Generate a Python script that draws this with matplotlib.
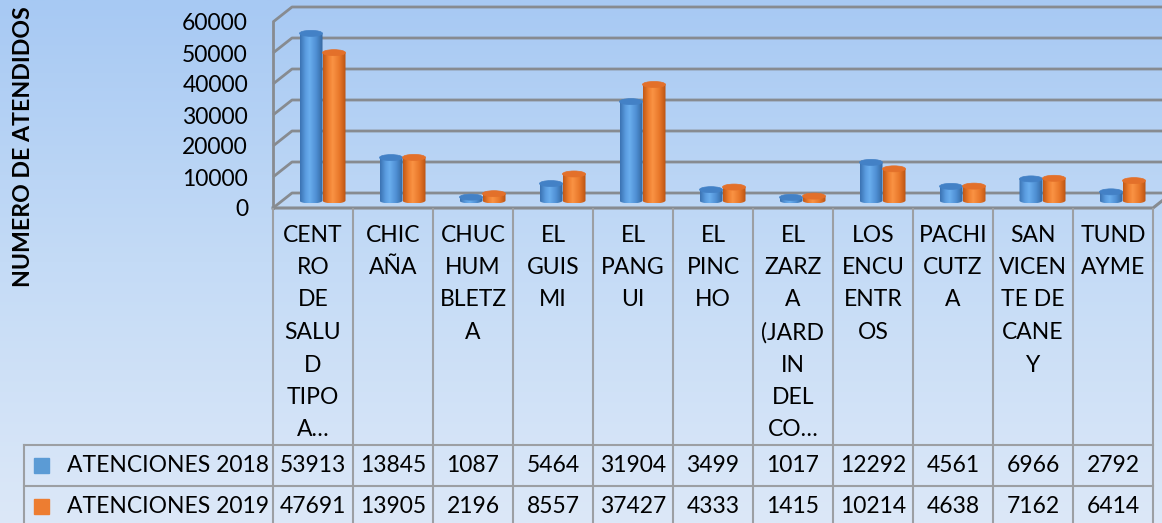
import numpy as np
import matplotlib.pyplot as plt
from matplotlib.path import Path
from matplotlib.patches import PathPatch, Ellipse, Rectangle
from matplotlib.colors import LinearSegmentedColormap

categories = [
    "CENT\nRO\nDE\nSALU\nD\nTIPO\nA…",
    "CHIC\nAÑA",
    "CHUC\nHUM\nBLETZ\nA",
    "EL\nGUIS\nMI",
    "EL\nPANG\nUI",
    "EL\nPINC\nHO",
    "EL\nZARZ\nA\n(JARD\nIN\nDEL\nCO…",
    "LOS\nENCU\nENTR\nOS",
    "PACHI\nCUTZ\nA",
    "SAN\nVICEN\nTE DE\nCANE\nY",
    "TUND\nAYME",
]
atenciones_2018 = [53913, 13845, 1087, 5464, 31904, 3499, 1017, 12292, 4561, 6966, 2792]
atenciones_2019 = [47691, 13905, 2196, 8557, 37427, 4333, 1415, 10214, 4638, 7162, 6414]
series_names = ["ATENCIONES 2018", "ATENCIONES 2019"]
y_ticks = [0, 10000, 20000, 30000, 40000, 50000, 60000]
y_title = "NUMERO DE ATENDIDOS"

W, H = 1162, 523
FS = 16.5
plt.rcParams["font.family"] = ["Lato", "DejaVu Sans"]

fig = plt.figure(figsize=(W / 100, H / 100), dpi=100)

# background gradient
bg = fig.add_axes([0, 0, 1, 1], zorder=-10)
bg_cmap = LinearSegmentedColormap.from_list("bg", ["#A7C9F3", "#C4DBF6", "#DCE8F8"])
bg.imshow(np.linspace(0, 1, 256).reshape(-1, 1), aspect="auto", cmap=bg_cmap,
          extent=[0, 1, 0, 1])
bg.axis("off")

# layout (pixels)
x0_px, col_w = 273, 80
floor_px = 208
px_per_unit = (208 - 22) / 60000
n = len(categories)

ax = fig.add_axes([x0_px / W, (H - floor_px) / H, n * col_w / W, floor_px / H])
ax.patch.set_alpha(0)
for sp in ax.spines.values():
    sp.set_visible(False)

DX = 19 / col_w          # depth offset, category units
DY = 15 / px_per_unit    # depth offset, value units
BW = 23 / col_w          # cylinder width
EH = 6 / px_per_unit     # ellipse height

grid_c = "#878B90"
for t in y_ticks:
    ax.plot([-0.5, -0.5 + DX, n - 0.5 + DX + 0.2], [t, t + DY, t + DY],
            color=grid_c, lw=2.0, clip_on=False, zorder=1, solid_capstyle="butt")
ax.plot([-0.5, -0.5], [0, y_ticks[-1]], color=grid_c, lw=2.0, clip_on=False, zorder=1)
ax.plot([-0.5, n - 0.5, n - 0.5 + DX], [0, 0, DY], color=grid_c, lw=2.2,
        clip_on=False, zorder=1)

blue_cmap = LinearSegmentedColormap.from_list(
    "b", [(0, "#3A72B2"), (0.25, "#5B9DE0"), (0.42, "#6AAEEE"), (0.72, "#4E8ED2"), (1, "#34669E")])
orange_cmap = LinearSegmentedColormap.from_list(
    "o", [(0, "#C25816"), (0.25, "#EF7F2F"), (0.42, "#FA9344"), (0.72, "#E8772A"), (1, "#B95312")])
tops = ["#4381C6", "#E3702A"]
cmaps = [blue_cmap, orange_cmap]
grad = np.linspace(0, 1, 128).reshape(1, -1)


def cylinder(xc, value, cmap, top_color):
    l, r = xc - BW / 2, xc + BW / 2
    base = DY / 2
    top = base + value
    th = np.linspace(np.pi, 2 * np.pi, 40)
    verts = [(l, top)] + list(zip(xc + BW / 2 * np.cos(th), base + EH / 2 * np.sin(th))) + [(r, top), (l, top)]
    codes = [Path.MOVETO] + [Path.LINETO] * (len(verts) - 2) + [Path.CLOSEPOLY]
    patch = PathPatch(Path(verts, codes), fc="none", ec="none", transform=ax.transData)
    ax.add_patch(patch)
    im = ax.imshow(grad, cmap=cmap, aspect="auto", extent=[l, r, base - EH / 2, top],
                   zorder=3, interpolation="bilinear")
    im.set_clip_path(patch)
    ax.add_patch(Ellipse((xc, top), BW, EH, fc=top_color, ec=top_color, lw=0.5, zorder=4))


for s, vals in enumerate([atenciones_2018, atenciones_2019]):
    for i, v in enumerate(vals):
        cylinder(i + DX / 2 + (s - 0.5) * BW, v, cmaps[s], tops[s])

ax.set_xlim(-0.5, n - 0.5)
ax.set_ylim(0, floor_px / px_per_unit)
ax.set_xticks([])
ax.set_yticks(y_ticks, [str(t) for t in y_ticks])
ax.tick_params(axis="y", length=0, pad=18, labelsize=FS)

fig.text(24 / W, 1 - 147 / H, y_title, rotation=90, fontsize=16.7, fontweight="bold",
         ha="center", va="center")

# data table
tab = fig.add_axes([0, 0, 1, 1], zorder=5)
tab.set_xlim(0, W)
tab.set_ylim(H, 0)
tab.axis("off")
line_c = "#9C9FA3"
head_top, head_bot, row_h, left_px = 209, 445, 41, 24
cols = [x0_px + col_w * k for k in range(n + 1)]
for cx in cols:
    tab.plot([cx, cx], [head_top, H], color=line_c, lw=1.5)
tab.plot([left_px, left_px], [head_bot, H], color=line_c, lw=1.5)
for y in [head_bot, head_bot + row_h]:
    tab.plot([left_px, cols[-1]], [y, y], color=line_c, lw=1.5)

for i, lab in enumerate(categories):
    for j, line in enumerate(lab.split("\n")):
        tab.text(cols[i] + col_w / 2, 235 + j * 32.5, line, ha="center", va="center", fontsize=FS)

key_colors = ["#5B9BD5", "#ED7D31"]
for s, (name, vals) in enumerate(zip(series_names, [atenciones_2018, atenciones_2019])):
    yc = head_bot + row_h * s + row_h / 2
    tab.add_patch(Rectangle((34, yc - 7.5), 15, 15, color=key_colors[s]))
    tab.text(67, yc, name, ha="left", va="center", fontsize=FS)
    for i, v in enumerate(vals):
        tab.text(cols[i] + col_w / 2, yc, str(v), ha="center", va="center", fontsize=FS)

fig.savefig("out.png", dpi=100)
